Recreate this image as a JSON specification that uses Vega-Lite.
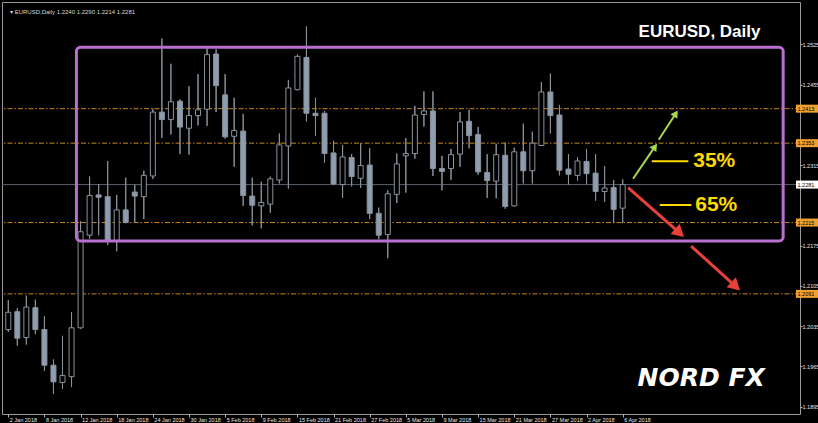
{
  "$schema": "https://vega.github.io/schema/vega-lite/v6.json",
  "width": 798,
  "height": 412,
  "autosize": {"type": "none"},
  "padding": {"left": 2, "top": 2, "right": 18, "bottom": 9},
  "background": "#000000",
  "config": {
    "view": {"stroke": "#9a9a9a", "strokeWidth": 1},
    "axis": {"domain": false, "grid": false, "labelFont": "Liberation Sans", "labelColor": "#e6e6e6", "labelFontSize": 5.5, "tickColor": "#b0b0b0"}
  },
  "datasets": {
    "candles": [
      {"i": 0, "d": "2 Jan 2018", "o": 1.2029, "h": 1.2080, "l": 1.2025, "c": 1.2059},
      {"i": 1, "d": "3 Jan 2018", "o": 1.2060, "h": 1.2066, "l": 1.2001, "c": 1.2014},
      {"i": 2, "d": "4 Jan 2018", "o": 1.2015, "h": 1.2088, "l": 1.2003, "c": 1.2068},
      {"i": 3, "d": "5 Jan 2018", "o": 1.2067, "h": 1.2081, "l": 1.2021, "c": 1.2029},
      {"i": 4, "d": "8 Jan 2018", "o": 1.2029, "h": 1.2052, "l": 1.1957, "c": 1.1967},
      {"i": 5, "d": "9 Jan 2018", "o": 1.1967, "h": 1.1977, "l": 1.1917, "c": 1.1938},
      {"i": 6, "d": "10 Jan 2018", "o": 1.1937, "h": 1.2018, "l": 1.1926, "c": 1.1949},
      {"i": 7, "d": "11 Jan 2018", "o": 1.1947, "h": 1.2059, "l": 1.1929, "c": 1.2032},
      {"i": 8, "d": "12 Jan 2018", "o": 1.2032, "h": 1.2217, "l": 1.2030, "c": 1.2199},
      {"i": 9, "d": "15 Jan 2018", "o": 1.2193, "h": 1.2295, "l": 1.2187, "c": 1.2262},
      {"i": 10, "d": "16 Jan 2018", "o": 1.2263, "h": 1.2282, "l": 1.2193, "c": 1.2259},
      {"i": 11, "d": "17 Jan 2018", "o": 1.2260, "h": 1.2322, "l": 1.2176, "c": 1.2184},
      {"i": 12, "d": "18 Jan 2018", "o": 1.2184, "h": 1.2263, "l": 1.2165, "c": 1.2237},
      {"i": 13, "d": "19 Jan 2018", "o": 1.2237, "h": 1.2293, "l": 1.2214, "c": 1.2215},
      {"i": 14, "d": "22 Jan 2018", "o": 1.2268, "h": 1.2281, "l": 1.2215, "c": 1.2261},
      {"i": 15, "d": "23 Jan 2018", "o": 1.2260, "h": 1.2305, "l": 1.2221, "c": 1.2297},
      {"i": 16, "d": "24 Jan 2018", "o": 1.2296, "h": 1.2413, "l": 1.2291, "c": 1.2407},
      {"i": 17, "d": "25 Jan 2018", "o": 1.2407, "h": 1.2535, "l": 1.2362, "c": 1.2394},
      {"i": 18, "d": "26 Jan 2018", "o": 1.2394, "h": 1.2491, "l": 1.2368, "c": 1.2425},
      {"i": 19, "d": "29 Jan 2018", "o": 1.2426, "h": 1.2429, "l": 1.2334, "c": 1.2381},
      {"i": 20, "d": "30 Jan 2018", "o": 1.2379, "h": 1.2452, "l": 1.2333, "c": 1.2401},
      {"i": 21, "d": "31 Jan 2018", "o": 1.2401, "h": 1.2473, "l": 1.2384, "c": 1.2411},
      {"i": 22, "d": "1 Feb 2018", "o": 1.2412, "h": 1.2518, "l": 1.2383, "c": 1.2507},
      {"i": 23, "d": "2 Feb 2018", "o": 1.2508, "h": 1.2516, "l": 1.2407, "c": 1.2453},
      {"i": 24, "d": "5 Feb 2018", "o": 1.2437, "h": 1.2473, "l": 1.2361, "c": 1.2364},
      {"i": 25, "d": "6 Feb 2018", "o": 1.2365, "h": 1.2432, "l": 1.2312, "c": 1.2375},
      {"i": 26, "d": "7 Feb 2018", "o": 1.2374, "h": 1.2404, "l": 1.2244, "c": 1.2262},
      {"i": 27, "d": "8 Feb 2018", "o": 1.2261, "h": 1.2293, "l": 1.2210, "c": 1.2245},
      {"i": 28, "d": "9 Feb 2018", "o": 1.2244, "h": 1.2286, "l": 1.2205, "c": 1.2250},
      {"i": 29, "d": "12 Feb 2018", "o": 1.2247, "h": 1.2295, "l": 1.2232, "c": 1.2291},
      {"i": 30, "d": "13 Feb 2018", "o": 1.2289, "h": 1.2370, "l": 1.2283, "c": 1.2350},
      {"i": 31, "d": "14 Feb 2018", "o": 1.2348, "h": 1.2463, "l": 1.2274, "c": 1.2449},
      {"i": 32, "d": "15 Feb 2018", "o": 1.2446, "h": 1.2507, "l": 1.2445, "c": 1.2504},
      {"i": 33, "d": "16 Feb 2018", "o": 1.2502, "h": 1.2556, "l": 1.2391, "c": 1.2405},
      {"i": 34, "d": "19 Feb 2018", "o": 1.2405, "h": 1.2432, "l": 1.2366, "c": 1.2401},
      {"i": 35, "d": "20 Feb 2018", "o": 1.2405, "h": 1.2409, "l": 1.2319, "c": 1.2335},
      {"i": 36, "d": "21 Feb 2018", "o": 1.2336, "h": 1.2357, "l": 1.2280, "c": 1.2282},
      {"i": 37, "d": "22 Feb 2018", "o": 1.2281, "h": 1.2350, "l": 1.2258, "c": 1.2329},
      {"i": 38, "d": "23 Feb 2018", "o": 1.2328, "h": 1.2334, "l": 1.2278, "c": 1.2295},
      {"i": 39, "d": "26 Feb 2018", "o": 1.2292, "h": 1.2353, "l": 1.2275, "c": 1.2314},
      {"i": 40, "d": "27 Feb 2018", "o": 1.2315, "h": 1.2344, "l": 1.2221, "c": 1.2231},
      {"i": 41, "d": "28 Feb 2018", "o": 1.2231, "h": 1.2241, "l": 1.2186, "c": 1.2193},
      {"i": 42, "d": "1 Mar 2018", "o": 1.2194, "h": 1.2271, "l": 1.2153, "c": 1.2265},
      {"i": 43, "d": "2 Mar 2018", "o": 1.2264, "h": 1.2335, "l": 1.2249, "c": 1.2317},
      {"i": 44, "d": "5 Mar 2018", "o": 1.2331, "h": 1.2362, "l": 1.2267, "c": 1.2335},
      {"i": 45, "d": "6 Mar 2018", "o": 1.2335, "h": 1.2418, "l": 1.2326, "c": 1.2402},
      {"i": 46, "d": "7 Mar 2018", "o": 1.2403, "h": 1.2443, "l": 1.2382, "c": 1.2409},
      {"i": 47, "d": "8 Mar 2018", "o": 1.2409, "h": 1.2443, "l": 1.2296, "c": 1.2309},
      {"i": 48, "d": "9 Mar 2018", "o": 1.2309, "h": 1.2331, "l": 1.2271, "c": 1.2304},
      {"i": 49, "d": "12 Mar 2018", "o": 1.2309, "h": 1.2343, "l": 1.2289, "c": 1.2333},
      {"i": 50, "d": "13 Mar 2018", "o": 1.2334, "h": 1.2407, "l": 1.2312, "c": 1.2390},
      {"i": 51, "d": "14 Mar 2018", "o": 1.2391, "h": 1.2411, "l": 1.2344, "c": 1.2366},
      {"i": 52, "d": "15 Mar 2018", "o": 1.2368, "h": 1.2381, "l": 1.2298, "c": 1.2303},
      {"i": 53, "d": "16 Mar 2018", "o": 1.2302, "h": 1.2334, "l": 1.2258, "c": 1.2288},
      {"i": 54, "d": "19 Mar 2018", "o": 1.2287, "h": 1.2352, "l": 1.2257, "c": 1.2333},
      {"i": 55, "d": "20 Mar 2018", "o": 1.2332, "h": 1.2354, "l": 1.2239, "c": 1.2243},
      {"i": 56, "d": "21 Mar 2018", "o": 1.2244, "h": 1.2345, "l": 1.2243, "c": 1.2338},
      {"i": 57, "d": "22 Mar 2018", "o": 1.2338, "h": 1.2387, "l": 1.2283, "c": 1.2305},
      {"i": 58, "d": "23 Mar 2018", "o": 1.2305, "h": 1.2373, "l": 1.2283, "c": 1.2353},
      {"i": 59, "d": "26 Mar 2018", "o": 1.2349, "h": 1.2459, "l": 1.2348, "c": 1.2442},
      {"i": 60, "d": "27 Mar 2018", "o": 1.2442, "h": 1.2474, "l": 1.2370, "c": 1.2401},
      {"i": 61, "d": "28 Mar 2018", "o": 1.2402, "h": 1.2419, "l": 1.2297, "c": 1.2306},
      {"i": 62, "d": "29 Mar 2018", "o": 1.2308, "h": 1.2334, "l": 1.2281, "c": 1.2299},
      {"i": 63, "d": "30 Mar 2018", "o": 1.2297, "h": 1.2329, "l": 1.2288, "c": 1.2322},
      {"i": 64, "d": "2 Apr 2018", "o": 1.2321, "h": 1.2343, "l": 1.2281, "c": 1.2300},
      {"i": 65, "d": "3 Apr 2018", "o": 1.2301, "h": 1.2334, "l": 1.2253, "c": 1.2269},
      {"i": 66, "d": "4 Apr 2018", "o": 1.2269, "h": 1.2313, "l": 1.2251, "c": 1.2275},
      {"i": 67, "d": "5 Apr 2018", "o": 1.2276, "h": 1.2289, "l": 1.2214, "c": 1.2238},
      {"i": 68, "d": "6 Apr 2018", "o": 1.2240, "h": 1.2290, "l": 1.2214, "c": 1.2281}
    ],
    "levels": [
      {"p": 1.2413, "k": "o"},
      {"p": 1.2353, "k": "o"},
      {"p": 1.2281, "k": "w"},
      {"p": 1.2215, "k": "o"},
      {"p": 1.2091, "k": "o"}
    ]
  },
  "layer": [
    {
      "data": {"name": "candles"},
      "mark": {"type": "rule", "color": "#8a929c", "strokeWidth": 1, "clip": true},
      "encoding": {
        "x": {
          "field": "i", "type": "quantitative", "title": null,
          "scale": {"domain": [-0.1421, 87.071], "nice": false, "zero": false},
          "axis": {
            "orient": "bottom", "title": null,
            "values": [0, 4, 8, 12, 16, 20, 24, 28, 32, 36, 40, 44, 48, 52, 56, 60, 64, 68],
            "labelExpr": "['2 Jan 2018','8 Jan 2018','12 Jan 2018','18 Jan 2018','24 Jan 2018','30 Jan 2018','5 Feb 2018','9 Feb 2018','15 Feb 2018','21 Feb 2018','27 Feb 2018','5 Mar 2018','9 Mar 2018','15 Mar 2018','21 Mar 2018','27 Mar 2018','2 Apr 2018','6 Apr 2018'][round(datum.value / 4)]",
            "labelAlign": "left", "labelOffset": 1, "labelPadding": 0, "tickSize": 3,
            "labelBaseline": "top", "labelOverlap": false, "labelFlush": false, "labelBound": false
          }
        },
        "y": {
          "field": "l", "type": "quantitative", "title": null,
          "scale": {"domain": [1.189084, 1.258974], "nice": false, "zero": false},
          "axis": {
            "orient": "right", "title": null,
            "values": [1.1895, 1.193, 1.1965, 1.2, 1.2035, 1.207, 1.2105, 1.214, 1.2175, 1.2245, 1.2315, 1.2385, 1.2455, 1.249, 1.2525, 1.256],
            "format": ".4f", "labelPadding": 0, "tickSize": 2, "labelAlign": "left",
            "labelOverlap": false, "labelFlush": false, "labelBound": false
          }
        },
        "y2": {"field": "h"}
      }
    },
    {
      "data": {"name": "levels"},
      "transform": [{"filter": "datum.k == 'o'"}],
      "mark": {"type": "rule", "color": "#c8841e", "strokeWidth": 1, "strokeDash": [5, 2, 1.5, 2]},
      "encoding": {"y": {"field": "p", "type": "quantitative", "title": null}}
    },
    {
      "data": {"name": "levels"},
      "transform": [{"filter": "datum.k == 'w'"}],
      "mark": {"type": "rule", "color": "#59606a", "strokeWidth": 1},
      "encoding": {"y": {"field": "p", "type": "quantitative", "title": null}}
    },
    {
      "data": {"name": "candles"},
      "mark": {"type": "rule", "color": "#8a929c", "strokeWidth": 1, "clip": true},
      "encoding": {
        "x": {"field": "i", "type": "quantitative", "title": null},
        "y": {"field": "l", "type": "quantitative", "title": null},
        "y2": {"field": "h"}
      }
    },
    {
      "data": {"name": "candles"},
      "mark": {"type": "bar", "size": 5, "stroke": "#8a929c", "strokeWidth": 1, "clip": true},
      "encoding": {
        "x": {"field": "i", "type": "quantitative", "title": null},
        "y": {"field": "o", "type": "quantitative", "title": null},
        "y2": {"field": "c"},
        "fill": {"condition": {"test": "datum.c < datum.o", "value": "#8e9db0"}, "value": "#000000"}
      }
    },
    {
      "data": {"values": [{}]},
      "mark": {"type": "rect", "fill": "#000000", "fillOpacity": 0, "stroke": "#b96fd0", "strokeWidth": 3, "cornerRadius": 4},
      "encoding": {
        "x": {"datum": 7.54, "type": "quantitative"},
        "x2": {"datum": 85.76},
        "y": {"datum": 1.25197, "type": "quantitative"},
        "y2": {"datum": 1.21831}
      }
    },
    {
      "data": {"values": [{"t": "EURUSD, Daily"}]},
      "mark": {"type": "text", "align": "right", "baseline": "middle", "font": "Liberation Sans", "fontWeight": "bold", "fontSize": 17, "color": "#ffffff"},
      "encoding": {
        "x": {"datum": 83.25, "type": "quantitative"},
        "y": {"datum": 1.25456, "type": "quantitative"},
        "text": {"field": "t"}
      }
    },
    {
      "data": {"values": [{"t": "▾ EURUSD,Daily  1.2240 1.2290 1.2214 1.2281"}]},
      "mark": {"type": "text", "align": "left", "baseline": "middle", "font": "Liberation Sans", "fontSize": 6, "color": "#d8d8d8"},
      "encoding": {
        "x": {"datum": 0.19, "type": "quantitative"},
        "y": {"datum": 1.25804, "type": "quantitative"},
        "text": {"field": "t"}
      }
    },
    {
      "data": {"values": [{}]},
      "mark": {"type": "rule", "color": "#ffd800", "strokeWidth": 2},
      "encoding": {
        "x": {"datum": 71.22, "type": "quantitative"},
        "x2": {"datum": 75.26},
        "y": {"datum": 1.23217, "type": "quantitative"},
        "y2": {"datum": 1.23217}
      }
    },
    {
      "data": {"values": [{}]},
      "mark": {"type": "rule", "color": "#ffd800", "strokeWidth": 2},
      "encoding": {
        "x": {"datum": 72.10, "type": "quantitative"},
        "x2": {"datum": 75.60},
        "y": {"datum": 1.22454, "type": "quantitative"},
        "y2": {"datum": 1.22454}
      }
    },
    {
      "data": {"values": [{"t": "35%"}]},
      "mark": {"type": "text", "align": "left", "baseline": "middle", "font": "Liberation Sans", "fontWeight": "bold", "fontSize": 21, "color": "#ffd800"},
      "encoding": {
        "x": {"datum": 75.81, "type": "quantitative"},
        "y": {"datum": 1.23217, "type": "quantitative"},
        "text": {"field": "t"}
      }
    },
    {
      "data": {"values": [{"t": "65%"}]},
      "mark": {"type": "text", "align": "left", "baseline": "middle", "font": "Liberation Sans", "fontWeight": "bold", "fontSize": 21, "color": "#ffd800"},
      "encoding": {
        "x": {"datum": 76.03, "type": "quantitative"},
        "y": {"datum": 1.22454, "type": "quantitative"},
        "text": {"field": "t"}
      }
    },
    {
      "data": {"values": [{}]},
      "mark": {"type": "rule", "color": "#a8d84e", "strokeWidth": 2},
      "encoding": {
        "x": {"datum": 69.15, "type": "quantitative"},
        "x2": {"datum": 71.57},
        "y": {"datum": 1.22912, "type": "quantitative"},
        "y2": {"datum": 1.23470}
      }
    },
    {
      "data": {"values": [{}]},
      "mark": {"type": "point", "shape": "triangle-up", "filled": true, "opacity": 1, "size": 70, "angle": 34.6, "color": "#a8d84e"},
      "encoding": {
        "x": {"datum": 71.57, "type": "quantitative"},
        "y": {"datum": 1.23470, "type": "quantitative"}
      }
    },
    {
      "data": {"values": [{}]},
      "mark": {"type": "rule", "color": "#a8d84e", "strokeWidth": 2},
      "encoding": {
        "x": {"datum": 71.99, "type": "quantitative"},
        "x2": {"datum": 73.88},
        "y": {"datum": 1.23590, "type": "quantitative"},
        "y2": {"datum": 1.24045}
      }
    },
    {
      "data": {"values": [{}]},
      "mark": {"type": "point", "shape": "triangle-up", "filled": true, "opacity": 1, "size": 70, "angle": 32.8, "color": "#a8d84e"},
      "encoding": {
        "x": {"datum": 73.88, "type": "quantitative"},
        "y": {"datum": 1.24045, "type": "quantitative"}
      }
    },
    {
      "data": {"values": [{}]},
      "mark": {"type": "rule", "color": "#e8413a", "strokeWidth": 3},
      "encoding": {
        "x": {"datum": 68.60, "type": "quantitative"},
        "x2": {"datum": 74.29},
        "y": {"datum": 1.22759, "type": "quantitative"},
        "y2": {"datum": 1.21969}
      }
    },
    {
      "data": {"values": [{}]},
      "mark": {"type": "point", "shape": "triangle-up", "filled": true, "opacity": 1, "size": 190, "angle": 131.8, "color": "#e8413a"},
      "encoding": {
        "x": {"datum": 74.29, "type": "quantitative"},
        "y": {"datum": 1.21969, "type": "quantitative"}
      }
    },
    {
      "data": {"values": [{}]},
      "mark": {"type": "rule", "color": "#e8413a", "strokeWidth": 3},
      "encoding": {
        "x": {"datum": 75.57, "type": "quantitative"},
        "x2": {"datum": 80.50},
        "y": {"datum": 1.21741, "type": "quantitative"},
        "y2": {"datum": 1.21041}
      }
    },
    {
      "data": {"values": [{}]},
      "mark": {"type": "point", "shape": "triangle-up", "filled": true, "opacity": 1, "size": 190, "angle": 132.6, "color": "#e8413a"},
      "encoding": {
        "x": {"datum": 80.50, "type": "quantitative"},
        "y": {"datum": 1.21041, "type": "quantitative"}
      }
    },
    {
      "data": {"values": [{"t": "NORD FX"}]},
      "mark": {"type": "text", "align": "center", "baseline": "middle", "font": "DejaVu Sans", "fontWeight": "bold", "fontStyle": "italic", "fontSize": 25, "color": "#ffffff"},
      "encoding": {
        "x": {"datum": 76.69, "type": "quantitative"},
        "y": {"datum": 1.19451, "type": "quantitative"},
        "text": {"field": "t"}
      }
    },
    {
      "data": {"name": "levels"},
      "mark": {"type": "bar", "size": 8, "orient": "horizontal"},
      "encoding": {
        "x": {"datum": 87.18, "type": "quantitative"},
        "x2": {"datum": 90},
        "y": {"field": "p", "type": "quantitative", "title": null},
        "fill": {"condition": {"test": "datum.k == 'w'", "value": "#ffffff"}, "value": "#f0a030"}
      }
    },
    {
      "data": {"name": "levels"},
      "mark": {"type": "text", "align": "left", "baseline": "middle", "font": "Liberation Sans", "fontSize": 5.5, "color": "#000000"},
      "encoding": {
        "x": {"datum": 87.35, "type": "quantitative"},
        "y": {"field": "p", "type": "quantitative", "title": null},
        "text": {"field": "p", "type": "quantitative", "format": ".4f"}
      }
    }
  ]
}
